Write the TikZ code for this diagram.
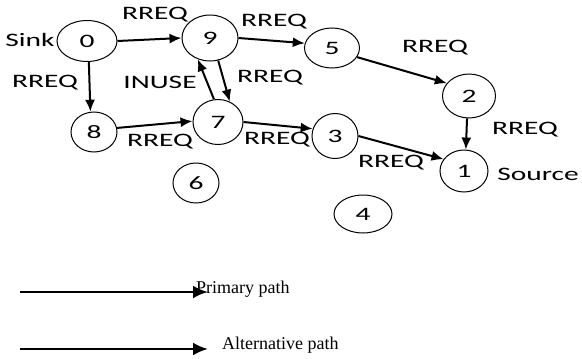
\documentclass[tikz,border=0pt]{standalone}
\usepackage{fontspec}
\setmainfont{Liberation Serif}
\newfontfamily\lblfont[FakeStretch=1.55]{Carlito}
\usetikzlibrary{arrows.meta,shapes.geometric}
\begin{document}
\begin{tikzpicture}[x=1pt,y=-1pt,
  nd/.style={draw,ellipse,line width=1pt,inner sep=0pt,font=\lblfont\fontsize{19}{19}\selectfont},
  lbl/.style={inner sep=0pt,font=\lblfont\fontsize{19}{19}\selectfont},
  arr/.style={line width=2pt,-{Latex[length=12pt,width=10pt]}},
  legarr/.style={line width=2.6pt,-{Latex[length=15pt,width=13pt]}},
  legtxt/.style={inner sep=0pt,anchor=west,font=\fontsize{18}{18}\selectfont}]
\useasboundingbox (0,0) rectangle (582,359);
% nodes
\node[nd,minimum width=60pt,minimum height=41pt] (n0) at (87,41) {0};
\node[nd,minimum width=56pt,minimum height=46pt] (n9) at (210,38) {9};
\node[nd,minimum width=55pt,minimum height=40pt] (n5) at (332,48) {5};
\node[nd,minimum width=53pt,minimum height=44pt] (n2) at (469,96) {2};
\node[nd,minimum width=46pt,minimum height=40pt] (n8) at (94,132) {8};
\node[nd,minimum width=50pt,minimum height=45pt] (n7) at (218,122) {7};
\node[nd,minimum width=46pt,minimum height=45pt] (n3) at (335,136) {3};
\node[nd,minimum width=48pt,minimum height=42pt] (n1) at (464,171) {1};
\node[nd,minimum width=46pt,minimum height=40pt] (n6) at (196,183) {6};
\node[nd,minimum width=58pt,minimum height=38pt] (n4) at (363,214) {4};
% labels
\node[lbl] (sink) at (30,40) {Sink};
\node[lbl] (src) at (538,174) {Source};
\node[lbl] (l09) at (155,15) {RREQ};
\node[lbl] (l95) at (274,22) {RREQ};
\node[lbl] (l52) at (435,48) {RREQ};
\node[lbl] (l08) at (45,83) {RREQ};
\node[lbl] (l79) at (160,82) {INUSE};
\node[lbl] (l97) at (270,78) {RREQ};
\node[lbl] (l87) at (160,142) {RREQ};
\node[lbl] (l73) at (277,140) {RREQ};
\node[lbl] (l21) at (525,130) {RREQ};
\node[lbl] (l31) at (391,163) {RREQ};
% edges
\draw[arr] (n0.east) -- (n9.west);
\draw[arr] (n9.east) -- (n5.170);
\draw[arr] (n5.-20) -- (n2.150);
\draw[arr] (n0.-85) -- (n8.100);
\draw[arr] (n8.10) -- (n7.178);
\draw[arr] (n9.-70) -- (n7.60);
\draw[arr] (n7.100) -- (n9.-120);
\draw[arr] (n7.east) -- (n3.162);
\draw[arr] (n3.east) -- (n1.150);
\draw[arr] (n2.-95) -- (n1.85);
% legend
\coordinate (a1s) at (20,292);
\coordinate (a1e) at (208,292);
\coordinate (a2s) at (20,349);
\coordinate (a2e) at (208,349);
\draw[legarr] (a1s) -- (a1e);
\draw[legarr] (a2s) -- (a2e);
\node[legtxt] (t1) at (196,289) {Primary path};
\node[legtxt] (t2) at (222,345) {Alternative path};
\end{tikzpicture}
\end{document}
